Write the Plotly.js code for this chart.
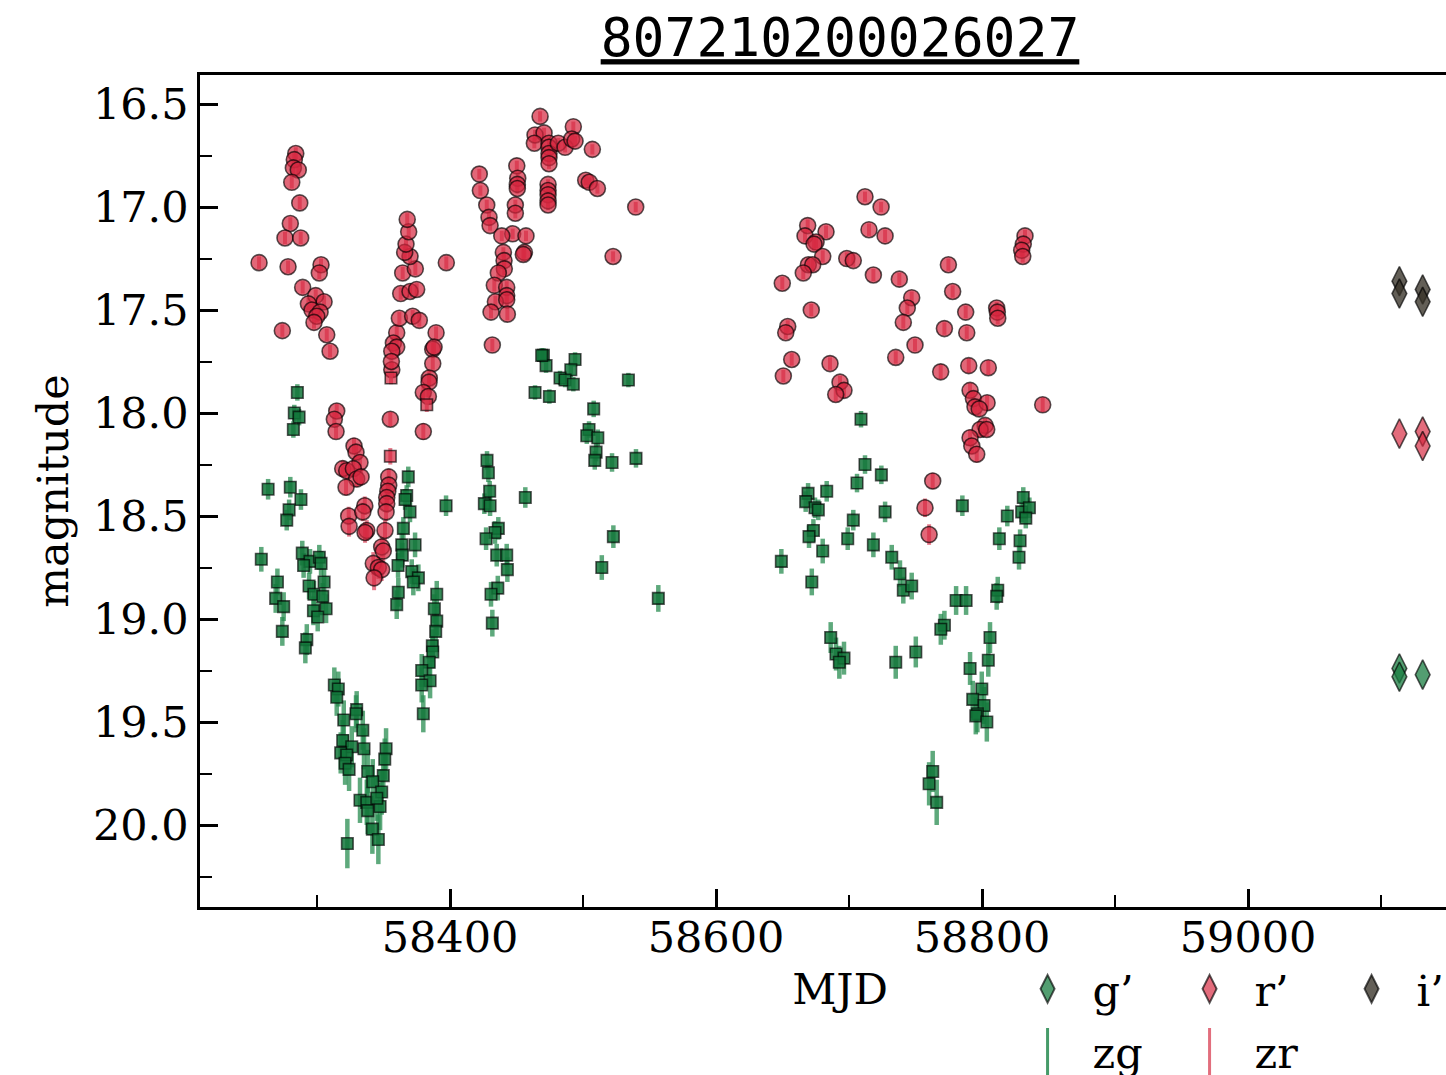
<!DOCTYPE html>
<html>
<head>
<meta charset="utf-8">
<script src="https://cdn.plot.ly/plotly-3.0.1.min.js"></script>
<style>
  html, body { margin: 0; padding: 0; overflow: hidden; background: #fff; }
  #lc { width: 1480px; height: 1075px; }
</style>
</head>
<body>
<div id="lc"></div>
<script>
// ZTF r-band photometry (zr)
const zr_mjd = [
  58284.0, 58282.9, 58282.2, 58285.9, 58281.0, 58287.0, 58279.9, 58275.9, 58287.7, 58256.4,
  58278.2, 58303.0, 58301.7, 58289.2, 58299.0, 58305.3, 58293.5, 58296.2, 58302.3, 58299.8,
  58297.7, 58273.9, 58307.3, 58309.8, 58314.8, 58313.0, 58314.3, 58327.8, 58329.3, 58332.3,
  58319.3, 58322.3, 58327.3, 58329.8, 58333.1, 58321.8, 58323.8, 58335.9, 58334.4, 58324.1,
  58337.4, 58336.1, 58342.3, 58346.1, 58348.6, 58342.9, 58351.1, 58348.6, 58349.8, 58353.9,
  58353.9, 58353.2, 58352.4, 58352.4, 58351.9, 58355.1, 58356.2, 58359.9, 58357.4, 58359.9,
  58356.2, 58355.9, 58361.9, 58362.9, 58369.9, 58374.9, 58371.9, 58376.9, 58364.4, 58373.9,
  58369.9, 58365.9, 58366.9, 58368.9, 58367.8, 58397.2, 58389.5, 58387.0, 58388.0, 58387.0,
  58384.4, 58384.2, 58379.9, 58383.7, 58379.9, 58422.0, 58422.8, 58427.6, 58429.3, 58430.1,
  58450.2, 58450.9, 58450.6, 58450.6, 58449.1, 58449.1, 58447.1, 58457.1, 58438.9, 58440.1,
  58440.6, 58440.8, 58455.9, 58455.1, 58436.3, 58433.3, 58442.6, 58442.6, 58434.1, 58442.6,
  58430.8, 58443.1, 58431.8, 58467.7, 58463.9, 58470.7, 58463.4, 58474.4, 58474.4, 58474.4,
  58474.4, 58474.4, 58481.4, 58486.5, 58492.7, 58491.5, 58494.0, 58507.0, 58502.0, 58504.7,
  58510.8, 58539.6, 58522.6, 58473.7, 58473.7, 58473.7, 58473.7, 58473.7, 58712.0, 58724.1,
  58668.9, 58682.7, 58666.9, 58675.2, 58673.7, 58680.2, 58669.4, 58672.7, 58665.6, 58715.0,
  58727.1, 58698.3, 58703.2, 58649.8, 58718.3, 58737.8, 58747.1, 58743.8, 58740.8, 58774.7,
  58777.9, 58787.7, 58811.0, 58811.5, 58811.8, 58832.3, 58831.0, 58829.8, 58830.6, 58671.6,
  58653.9, 58652.4, 58771.7, 58788.5, 58749.6, 58735.1, 58656.9, 58650.6, 58685.7, 58693.2,
  58696.2, 58690.0, 58768.9, 58790.0, 58804.7, 58845.6, 58791.0, 58793.5, 58794.7, 58803.8,
  58797.9, 58802.3, 58798.5, 58803.5, 58791.0, 58792.3, 58796.0, 58762.9, 58757.1, 58760.2
];
const zr_mag = [
  16.74, 16.77, 16.81, 16.82, 16.88, 16.98, 17.08, 17.15, 17.15, 17.27,
  17.29, 17.28, 17.32, 17.39, 17.43, 17.46, 17.47, 17.50, 17.51, 17.53,
  17.56, 17.60, 17.62, 17.70, 17.99, 18.03, 18.09, 18.16, 18.19, 18.24,
  18.27, 18.28, 18.27, 18.32, 18.31, 18.36, 18.50, 18.45, 18.48, 18.55,
  18.57, 18.58, 18.73, 18.75, 18.76, 18.80, 18.57, 18.65, 18.67, 18.31,
  18.35, 18.38, 18.41, 18.44, 18.48, 18.03, 17.79, 17.61, 17.66, 17.68,
  17.70, 17.75, 17.54, 17.42, 17.41, 17.40, 17.53, 17.55, 17.32, 17.30,
  17.24, 17.22, 17.18, 17.12, 17.06, 17.27, 17.61, 17.69, 17.68, 17.76,
  17.83, 17.85, 17.90, 17.92, 18.09, 16.84, 16.92, 16.99, 17.05, 17.09,
  16.80, 16.86, 16.89, 16.91, 16.99, 17.03, 17.13, 17.14, 17.14, 17.22,
  17.26, 17.30, 17.22, 17.23, 17.32, 17.38, 17.39, 17.43, 17.46, 17.45,
  17.51, 17.52, 17.67, 16.56, 16.65, 16.64, 16.69, 16.69, 16.71, 16.74,
  16.76, 16.79, 16.69, 16.71, 16.61, 16.67, 16.68, 16.72, 16.87, 16.88,
  16.91, 17.00, 17.24, 16.89, 16.92, 16.94, 16.97, 16.99, 16.95, 17.00,
  17.09, 17.12, 17.14, 17.17, 17.18, 17.24, 17.28, 17.28, 17.32, 17.11,
  17.14, 17.25, 17.26, 17.37, 17.33, 17.35, 17.44, 17.49, 17.56, 17.28,
  17.41, 17.51, 17.49, 17.51, 17.54, 17.14, 17.18, 17.21, 17.24, 17.50,
  17.58, 17.61, 17.59, 17.61, 17.67, 17.73, 17.74, 17.82, 17.76, 17.85,
  17.89, 17.91, 17.80, 17.77, 17.78, 17.96, 17.89, 17.93, 17.97, 17.95,
  17.98, 18.06, 18.08, 18.08, 18.12, 18.16, 18.20, 18.33, 18.46, 18.59
];
const zr_err = [
  0.03, 0.03, 0.03, 0.03, 0.03, 0.03, 0.03, 0.03, 0.03, 0.03,
  0.03, 0.03, 0.03, 0.03, 0.03, 0.03, 0.03, 0.03, 0.03, 0.03,
  0.03, 0.03, 0.03, 0.03, 0.035, 0.035, 0.035, 0.04, 0.04, 0.04,
  0.04, 0.04, 0.04, 0.04, 0.04, 0.04, 0.045, 0.045, 0.045, 0.05,
  0.05, 0.05, 0.055, 0.055, 0.055, 0.06, 0.05, 0.05, 0.05, 0.04,
  0.04, 0.04, 0.045, 0.045, 0.045, 0.035, 0.035, 0.03, 0.03, 0.03,
  0.03, 0.03, 0.03, 0.03, 0.03, 0.03, 0.03, 0.03, 0.03, 0.03,
  0.03, 0.03, 0.03, 0.03, 0.03, 0.03, 0.03, 0.03, 0.03, 0.03,
  0.035, 0.035, 0.035, 0.035, 0.04, 0.025, 0.025, 0.025, 0.025, 0.025,
  0.025, 0.025, 0.025, 0.025, 0.025, 0.025, 0.025, 0.025, 0.025, 0.025,
  0.03, 0.03, 0.03, 0.03, 0.03, 0.03, 0.03, 0.03, 0.03, 0.03,
  0.03, 0.03, 0.03, 0.025, 0.025, 0.025, 0.025, 0.025, 0.025, 0.025,
  0.025, 0.025, 0.025, 0.025, 0.025, 0.025, 0.025, 0.025, 0.025, 0.025,
  0.025, 0.025, 0.025, 0.025, 0.025, 0.025, 0.025, 0.025, 0.025, 0.025,
  0.03, 0.03, 0.03, 0.03, 0.03, 0.03, 0.03, 0.03, 0.03, 0.03,
  0.03, 0.03, 0.03, 0.03, 0.03, 0.03, 0.03, 0.03, 0.03, 0.03,
  0.03, 0.03, 0.03, 0.03, 0.03, 0.03, 0.03, 0.03, 0.03, 0.03,
  0.03, 0.03, 0.03, 0.03, 0.03, 0.03, 0.03, 0.03, 0.03, 0.03,
  0.035, 0.035, 0.035, 0.035, 0.035, 0.035, 0.035, 0.035, 0.035, 0.035,
  0.035, 0.035, 0.035, 0.035, 0.04, 0.04, 0.04, 0.04, 0.045, 0.05
];
// zr points from a second field (square markers)
const zr2_mjd = [58355.6, 58355.1, 58382.5];
const zr2_mag = [17.83, 18.21, 17.96];
const zr2_err = [0.03, 0.04, 0.035];

// ZTF g-band photometry (zg)
const zg_mjd = [
  58258.1, 58263.2, 58285.2, 58282.9, 58286.5, 58282.2, 58279.9, 58287.9, 58279.0, 58277.2,
  58288.9, 58294.7, 58301.7, 58303.0, 58289.9, 58270.2, 58268.9, 58274.9, 58273.9, 58294.0,
  58297.7, 58304.3, 58305.3, 58306.8, 58297.3, 58300.5, 58292.3, 58291.2, 58368.6, 58367.4,
  58366.2, 58369.9, 58397.0, 58364.9, 58363.7, 58373.7, 58364.1, 58360.9, 58371.2, 58376.2,
  58372.4, 58361.1, 58359.9, 58390.0, 58388.2, 58390.0, 58389.2, 58386.7, 58387.0, 58384.4,
  58378.7, 58385.0, 58378.7, 58379.9, 58313.0, 58316.0, 58314.8, 58329.8, 58329.3, 58320.1,
  58334.4, 58319.3, 58326.1, 58335.3, 58317.8, 58322.3, 58321.1, 58324.1, 58351.9, 58350.9,
  58349.8, 58338.1, 58341.9, 58332.3, 58337.4, 58338.1, 58348.6, 58347.4, 58344.9, 58341.6,
  58346.1, 58322.8, 58470.2, 58472.2, 58468.9, 58494.0, 58490.8, 58482.7, 58486.5, 58492.7,
  58463.9, 58474.7, 58534.1, 58508.0, 58504.5, 58502.8, 58511.1, 58509.8, 58508.8, 58521.8,
  58539.8, 58427.8, 58428.8, 58429.8, 58425.8, 58430.1, 58456.6, 58436.3, 58433.8, 58427.1,
  58435.1, 58442.6, 58443.1, 58435.9, 58430.8, 58431.8, 58522.8, 58514.1, 58556.6, 58712.0,
  58724.3, 58706.0, 58669.2, 58683.2, 58667.4, 58674.4, 58676.9, 58727.1, 58703.2, 58785.2,
  58673.2, 58669.9, 58699.0, 58680.2, 58649.1, 58672.0, 58718.3, 58732.1, 58738.3, 58740.8,
  58747.1, 58780.5, 58788.0, 58811.8, 58811.0, 58831.0, 58829.8, 58835.6, 58832.9, 58819.0,
  58813.0, 58828.6, 58827.8, 58771.7, 58769.0, 58686.2, 58690.2, 58696.2, 58692.7, 58735.1,
  58750.2, 58806.0, 58804.7, 58791.0, 58799.8, 58793.0, 58801.5, 58796.5, 58795.3, 58803.6,
  58762.9, 58760.2, 58765.9, 58709.0
];
const zg_mag = [
  18.71, 18.37, 17.90, 18.00, 18.02, 18.08, 18.36, 18.42, 18.47, 18.52,
  18.68, 18.72, 18.70, 18.73, 18.74, 18.82, 18.90, 18.94, 19.06, 18.84,
  18.88, 18.89, 18.82, 18.95, 18.96, 18.99, 19.10, 19.14, 18.31, 18.40,
  18.42, 18.48, 18.45, 18.56, 18.64, 18.64, 18.69, 18.74, 18.77, 18.80,
  18.82, 18.87, 18.93, 18.88, 18.95, 19.01, 19.06, 19.13, 19.16, 19.21,
  19.25, 19.30, 19.32, 19.46, 19.32, 19.34, 19.38, 19.44, 19.46, 19.49,
  19.54, 19.59, 19.62, 19.63, 19.65, 19.66, 19.70, 19.73, 19.63, 19.68,
  19.76, 19.74, 19.79, 19.88, 19.89, 19.93, 19.84, 19.91, 19.87, 20.02,
  20.07, 20.09, 17.72, 17.77, 17.72, 17.74, 17.79, 17.83, 17.84, 17.86,
  17.90, 17.92, 17.84, 17.98, 18.08, 18.11, 18.12, 18.19, 18.23, 18.24,
  18.22, 18.23, 18.29, 18.38, 18.44, 18.45, 18.41, 18.56, 18.58, 18.61,
  18.69, 18.69, 18.76, 18.85, 18.88, 19.02, 18.60, 18.75, 18.90, 18.25,
  18.30, 18.34, 18.39, 18.38, 18.43, 18.46, 18.47, 18.48, 18.52, 18.45,
  18.57, 18.60, 18.61, 18.67, 18.72, 18.82, 18.64, 18.70, 18.78, 18.86,
  18.84, 18.91, 18.91, 18.86, 18.89, 18.41, 18.48, 18.46, 18.51, 18.50,
  18.61, 18.62, 18.70, 19.03, 19.05, 19.09, 19.17, 19.19, 19.21, 19.21,
  19.16, 19.09, 19.20, 19.24, 19.34, 19.39, 19.42, 19.46, 19.47, 19.50,
  19.74, 19.80, 19.89, 18.03
];
const zg_err = [
  0.06, 0.05, 0.04, 0.04, 0.04, 0.04, 0.05, 0.05, 0.05, 0.05,
  0.06, 0.06, 0.06, 0.06, 0.06, 0.065, 0.07, 0.07, 0.07, 0.065,
  0.065, 0.065, 0.065, 0.07, 0.07, 0.07, 0.075, 0.075, 0.05, 0.05,
  0.05, 0.05, 0.05, 0.055, 0.06, 0.06, 0.06, 0.06, 0.06, 0.065,
  0.065, 0.07, 0.07, 0.065, 0.07, 0.07, 0.075, 0.08, 0.08, 0.08,
  0.08, 0.085, 0.085, 0.09, 0.085, 0.085, 0.09, 0.09, 0.09, 0.095,
  0.095, 0.1, 0.1, 0.1, 0.1, 0.1, 0.105, 0.105, 0.1, 0.1,
  0.105, 0.105, 0.11, 0.11, 0.11, 0.115, 0.11, 0.115, 0.11, 0.12,
  0.12, 0.12, 0.035, 0.035, 0.035, 0.035, 0.035, 0.035, 0.035, 0.035,
  0.035, 0.035, 0.035, 0.04, 0.04, 0.04, 0.04, 0.045, 0.045, 0.045,
  0.045, 0.045, 0.045, 0.05, 0.05, 0.05, 0.05, 0.055, 0.055, 0.055,
  0.055, 0.055, 0.06, 0.06, 0.06, 0.065, 0.055, 0.06, 0.065, 0.045,
  0.045, 0.045, 0.05, 0.05, 0.05, 0.05, 0.05, 0.05, 0.05, 0.05,
  0.055, 0.055, 0.055, 0.06, 0.06, 0.065, 0.06, 0.06, 0.065, 0.065,
  0.065, 0.07, 0.07, 0.065, 0.065, 0.05, 0.05, 0.05, 0.05, 0.05,
  0.055, 0.055, 0.06, 0.07, 0.075, 0.075, 0.08, 0.08, 0.08, 0.08,
  0.075, 0.075, 0.08, 0.08, 0.085, 0.09, 0.09, 0.09, 0.09, 0.095,
  0.1, 0.105, 0.11, 0.04
];

// follow-up photometry in g', r', i'
const gp_mjd = [59113.8, 59113.8, 59131.3];
const gp_mag = [19.24, 19.28, 19.27];
const rp_mjd = [59113.8, 59131.3, 59131.3];
const rp_mag = [18.10, 18.09, 18.16];
const ip_mjd = [59113.8, 59113.8, 59131.3, 59131.3];
const ip_mag = [17.36, 17.42, 17.40, 17.46];

const objectId = '807210200026027';

const SERIF = 'DejaVu Serif';
const GREEN = 'rgba(18,118,58,0.85)';
const GREEN_BAR = 'rgba(40,140,80,0.75)';
const RED = 'rgba(214,38,62,0.70)';
const RED_BAR = 'rgba(225,90,110,0.8)';
const GREY = 'rgba(55,50,40,0.78)';
const EDGE = { color: 'rgba(0,0,0,0.65)', width: 1.6 };

const traces = [
  {
    x: zg_mjd, y: zg_mag, type: 'scatter', mode: 'markers', name: 'zg', showlegend: false,
    marker: { symbol: 'square', size: 11.5, color: GREEN, line: EDGE },
    error_y: { type: 'data', array: zg_err, visible: true, color: GREEN_BAR, thickness: 4.5, width: 0 }
  },
  {
    x: zr_mjd, y: zr_mag, type: 'scatter', mode: 'markers', name: 'zr', showlegend: false,
    marker: { symbol: 'circle', size: 16, color: RED, line: EDGE },
    error_y: { type: 'data', array: zr_err, visible: true, color: RED_BAR, thickness: 4, width: 0 }
  },
  {
    x: zr2_mjd, y: zr2_mag, type: 'scatter', mode: 'markers', name: 'zr', showlegend: false,
    marker: { symbol: 'square', size: 11.5, color: RED, line: EDGE },
    error_y: { type: 'data', array: zr2_err, visible: true, color: RED_BAR, thickness: 4, width: 0 }
  },
  {
    x: gp_mjd, y: gp_mag, type: 'scatter', mode: 'markers', name: 'g\u2019', legend: 'legend',
    marker: { symbol: 'diamond-tall', size: 21, color: 'rgba(25,125,65,0.75)', line: EDGE }
  },
  {
    x: rp_mjd, y: rp_mag, type: 'scatter', mode: 'markers', name: 'r\u2019', legend: 'legend',
    marker: { symbol: 'diamond-tall', size: 21, color: 'rgba(214,38,62,0.68)', line: EDGE }
  },
  {
    x: ip_mjd, y: ip_mag, type: 'scatter', mode: 'markers', name: 'i\u2019', legend: 'legend',
    marker: { symbol: 'diamond-tall', size: 21, color: GREY, line: EDGE }
  },
  // legend keys for the ZTF error-bar series
  {
    x: [null], y: [null], type: 'scatter', mode: 'markers', name: 'zg', legend: 'legend2',
    marker: { symbol: 'line-ns', size: 16, color: 'rgba(70,155,105,1)', line: { color: 'rgba(70,155,105,1)', width: 3 } }
  },
  {
    x: [null], y: [null], type: 'scatter', mode: 'markers', name: 'zr', legend: 'legend2',
    marker: { symbol: 'line-ns', size: 16, color: 'rgba(226,110,125,1)', line: { color: 'rgba(226,110,125,1)', width: 3 } }
  }
];

const legendBase = {
  orientation: 'h', xanchor: 'left', yanchor: 'top', x: 0.627,
  font: { family: SERIF, size: 43, color: '#000' },
  itemwidth: 80, entrywidth: 67, bgcolor: 'rgba(0,0,0,0)', borderwidth: 0,
  itemclick: false, itemdoubleclick: false
};

const layout = {
  width: 1480, height: 1075,
  margin: { l: 200, r: 0, t: 75, b: 168, autoexpand: false },
  paper_bgcolor: '#fff', plot_bgcolor: '#fff',
  font: { family: SERIF, size: 43, color: '#000' },
  title: {
    text: objectId, x: 0.5, xref: 'paper', xanchor: 'center',
    y: 0.965, yref: 'container', yanchor: 'middle',
    font: { family: 'DejaVu Sans Mono', size: 53, color: '#000', lineposition: 'under' }
  },
  xaxis: {
    range: [58212, 59174.4], tick0: 58000, dtick: 200, tickformat: 'd',
    ticks: 'inside', ticklen: 18, tickwidth: 2.5, tickcolor: '#000',
    minor: { tick0: 58000, dtick: 100, ticks: 'inside', ticklen: 12, tickwidth: 2, tickcolor: '#000' },
    showline: true, linewidth: 2.5, linecolor: '#000', mirror: true,
    showgrid: false, zeroline: false, ticklabelstandoff: -9,
    tickfont: { family: SERIF, size: 43, color: '#000' },
    title: { text: 'MJD', font: { family: SERIF, size: 43, color: '#000' }, standoff: 13 }
  },
  yaxis: {
    range: [20.398, 16.359], tick0: 16.5, dtick: 0.5, tickformat: '.1f',
    ticks: 'inside', ticklen: 18, tickwidth: 2.5, tickcolor: '#000',
    minor: { tick0: 16.5, dtick: 0.25, ticks: 'inside', ticklen: 12, tickwidth: 2, tickcolor: '#000' },
    showline: true, linewidth: 2.5, linecolor: '#000',
    showgrid: false, zeroline: false, ticklabelstandoff: 0,
    tickfont: { family: SERIF, size: 43, color: '#000' },
    title: { text: 'magnitude', font: { family: SERIF, size: 43, color: '#000' }, standoff: 11 }
  },
  legend: Object.assign({}, legendBase, { y: -0.057 }),
  legend2: Object.assign({}, legendBase, { y: -0.132 }),
  hovermode: false
};

Plotly.newPlot('lc', traces, layout, { displayModeBar: false, responsive: false }).then(function () {
  // slightly larger diamond keys
  document.querySelectorAll('g.legend .legendpoints path').forEach(function (p) {
    const t = p.getAttribute('transform') || '';
    p.setAttribute('transform', t + ' scale(1.25)');
  });
  // stretch the error-bar keys into long vertical strokes
  document.querySelectorAll('g.legend2 .legendpoints path').forEach(function (p) {
    const t = p.getAttribute('transform') || '';
    p.setAttribute('transform', t + ' translate(0,8) scale(1,2.8)');
  });
});
</script>
</body>
</html>
